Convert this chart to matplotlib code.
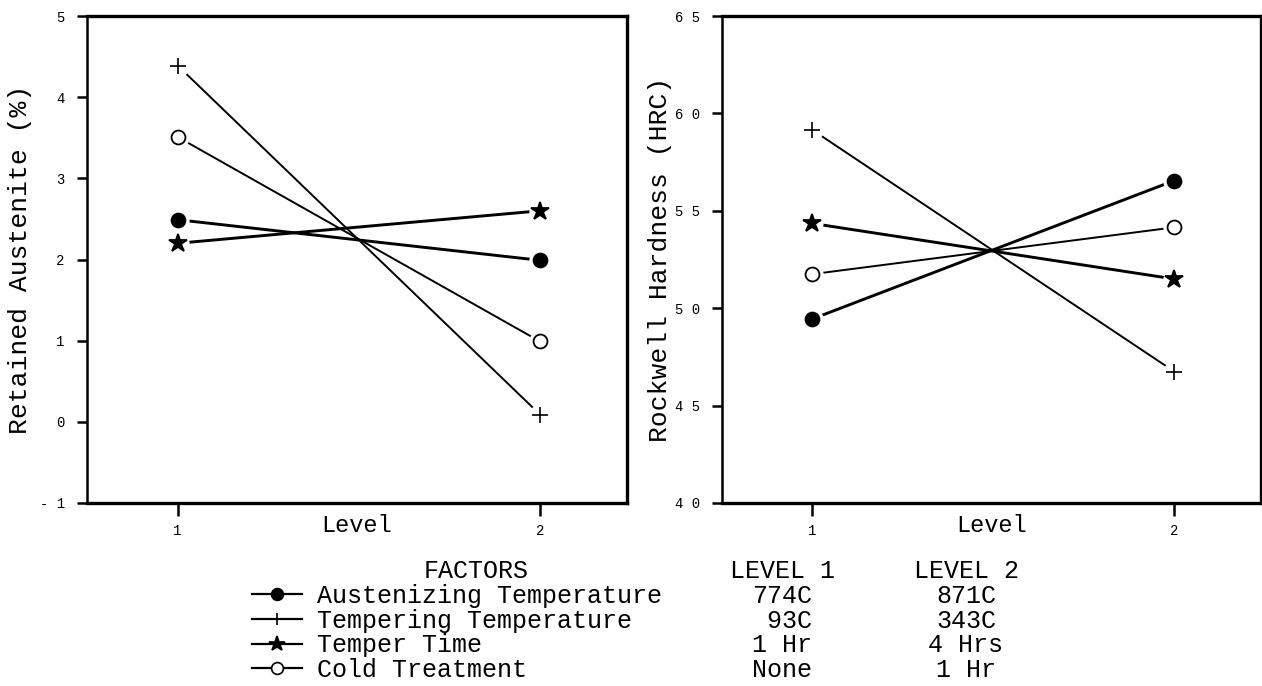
import matplotlib
matplotlib.use("Agg")
import matplotlib.pyplot as plt
from matplotlib.ticker import FuncFormatter

plt.rcParams['font.family'] = ['Liberation Mono', 'DejaVu Sans Mono']

levels = [1, 2]
factors = ['Austenizing Temperature', 'Tempering Temperature', 'Temper Time', 'Cold Treatment']
level1_settings = ['774C', ' 93C', '1 Hr', 'None']
level2_settings = ['871C', '343C', '4 Hrs', '1 Hr']

# retained austenite (%)
ra_austenizing = [2.49, 1.99]
ra_tempering = [4.39, 0.09]
ra_temper_time = [2.20, 2.60]
ra_cold = [3.51, 0.99]

# rockwell hardness (HRC)
hrc_austenizing = [49.45, 56.55]
hrc_tempering = [59.15, 46.75]
hrc_temper_time = [54.35, 51.5]
hrc_cold = [51.75, 54.15]

# marker style per factor: (marker, size, facecolor, linewidth)
styles = [('o', 10, 'black', 2.1),
          ('+', 11, 'black', 1.4),
          ('*', 13.5, 'black', 2.1),
          ('o', 10, 'white', 1.4)]


def spaced(v, pos):
    return ' '.join(str(int(round(v))))


def draw_panel(ax, series, ylim, yticks, ylabel, label_x):
    for vals, (mk, ms, fc, lw) in zip(series, styles):
        ax.plot(levels, vals, color='black', lw=lw, zorder=2)
        # white halo leaves a small gap between line and marker
        ax.plot(levels, vals, ls='None', marker='o', ms=15, mfc='white', mec='white', zorder=3)
        ax.plot(levels, vals, ls='None', marker=mk, ms=ms, mfc=fc, mec='black',
                mew=1.3 if mk != '+' else 1.2, zorder=4)
    ax.set_xlim(0.75, 2.24)
    ax.set_ylim(*ylim)
    ax.set_xticks(levels)
    ax.set_yticks(yticks)
    ax.yaxis.set_major_formatter(FuncFormatter(spaced))
    ax.tick_params(direction='out', length=7, width=1.8, labelsize=10, pad=9)
    ax.tick_params(axis='x', length=9, pad=6)
    for side in ['top', 'right', 'bottom']:
        ax.spines[side].set_linewidth(2.4)
    ax.spines['left'].set_linewidth(1.8)
    ax.set_xlabel('Level', fontsize=17, va='center')
    ax.xaxis.set_label_coords(0.5, -0.046)
    ax.set_ylabel(ylabel, fontsize=19, va='center')
    ax.yaxis.set_label_coords(label_x, 0.5)


fig = plt.figure(figsize=(12.62, 6.86), dpi=100)
ax1 = fig.add_axes([87 / 1262, 1 - 503 / 686, 540 / 1262, 487 / 686])
ax2 = fig.add_axes([722 / 1262, 1 - 503 / 686, 539 / 1262, 487 / 686])

draw_panel(ax1, [ra_austenizing, ra_tempering, ra_temper_time, ra_cold],
           (-1, 5), range(-1, 6), 'Retained Austenite (%)', -0.124)
draw_panel(ax2, [hrc_austenizing, hrc_tempering, hrc_temper_time, hrc_cold],
           (40, 65), range(40, 66, 5), 'Rockwell Hardness (HRC)', -0.115)

# factor table below the panels
leglines = []
for mk, ms, fc, lw in styles:
    leglines.append(plt.Line2D([], [], color='black', lw=1.6, marker=mk, ms=ms * 0.85,
                               mfc=fc, mec='black', mew=1.2))
fig.legend(leglines, factors, loc='upper left', bbox_to_anchor=(252 / 1262, 1 - 584 / 686),
           frameon=False, fontsize=18, handlelength=2.0, handletextpad=0.6,
           labelspacing=0.025, borderpad=0, borderaxespad=0, numpoints=1)

row_y = [596, 621, 645, 670]
fig.text(476 / 1262, 1 - 571 / 686, 'FACTORS', fontsize=18, ha='center', va='center')
fig.text(782 / 1262, 1 - 571 / 686, 'LEVEL 1', fontsize=18, ha='center', va='center')
fig.text(966 / 1262, 1 - 571 / 686, 'LEVEL 2', fontsize=18, ha='center', va='center')
for y, s1, s2 in zip(row_y, level1_settings, level2_settings):
    fig.text(782 / 1262, 1 - y / 686, s1, fontsize=18, ha='center', va='center')
    fig.text(966 / 1262, 1 - y / 686, s2, fontsize=18, ha='center', va='center')

fig.savefig('out.png', dpi=100)
